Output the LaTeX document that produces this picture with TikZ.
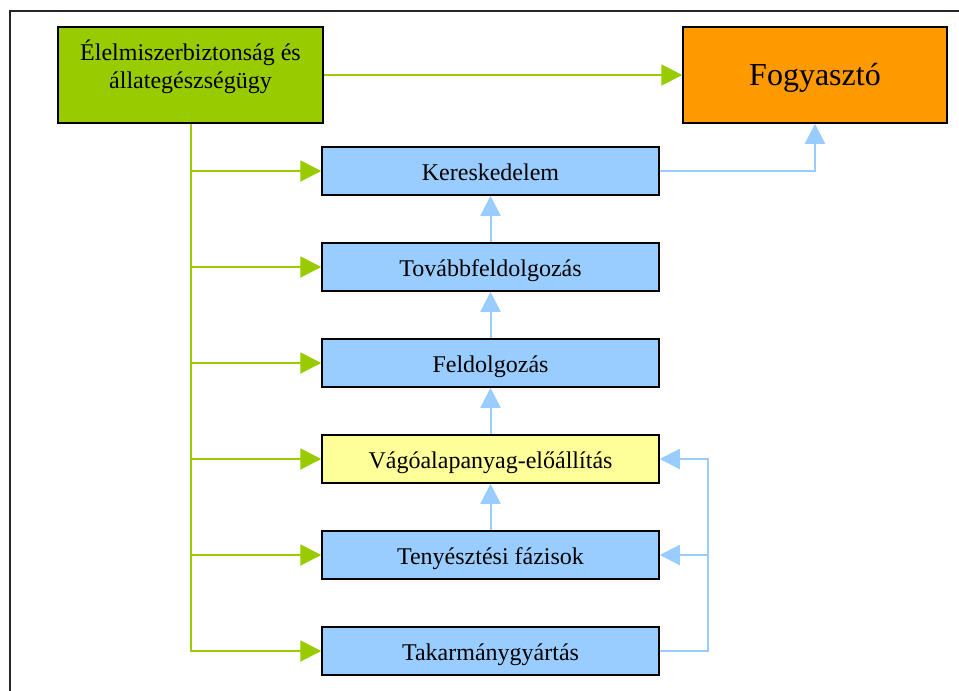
\documentclass[tikz,border=0pt]{standalone}
\usepackage{fontspec}
\setmainfont{Liberation Serif}
\usetikzlibrary{arrows.meta}

\definecolor{leafgreen}{HTML}{99CC00}
\definecolor{amber}{HTML}{FF9900}
\definecolor{skyblue}{HTML}{99CCFF}
\definecolor{paleyellow}{HTML}{FFFF99}

\tikzset{
  box/.style={draw=black, line width=1.5pt, rectangle, inner sep=0pt},
  stage/.style={box, fill=skyblue, minimum width=337pt, minimum height=48pt,
    font=\fontsize{24}{28}\selectfont, text height=24pt, text depth=5.3pt},
  ctrl/.style={draw=leafgreen, line width=2pt,
    -{Triangle[length=21pt,width=21pt]}},
  flow/.style={draw=skyblue, line width=2pt,
    -{Triangle[length=20pt,width=20pt]}},
}

\begin{document}
\begin{tikzpicture}[x=1pt,y=-1pt]
  \useasboundingbox (0,0) rectangle (959,691);
  % page frame (left and top edges)
  \draw[line width=1.5pt, black!85] (10,691) -- (10,11) -- (959,11);

  % top row
  \node[box, fill=leafgreen, minimum width=265pt, minimum height=96pt,
    label={[yshift=8.5pt, align=center, inner sep=0pt,
      font=\fontsize{24}{28}\selectfont]center:\rule{0pt}{22pt}Élelmiszerbiztonság és\\állategészségügy\rule[-7pt]{0pt}{7pt}}]
    (safety) at (190.5,75) {};
  \node[box, fill=amber, minimum width=264pt, minimum height=96pt,
    font=\fontsize{32}{38}\selectfont, text height=28.8pt, text depth=6.9pt]
    (consumer) at (815,75) {Fogyasztó};

  % chain of stages
  \node[stage] (trade)   at (490.5,171) {Kereskedelem};
  \node[stage] (further) at (490.5,267) {Továbbfeldolgozás};
  \node[stage] (process) at (490.5,363) {Feldolgozás};
  \node[stage, fill=paleyellow] (raw) at (490.5,459) {Vágóalapanyag-előállítás};
  \node[stage] (breed)   at (490.5,555) {Tenyésztési fázisok};
  \node[stage] (feed)    at (490.5,651) {Takarmánygyártás};

  % control connections
  \draw[ctrl] (safety.east) -- (consumer.west);
  \draw[ctrl] (safety.south) |- (feed.west);
  \foreach \s in {trade,further,process,raw,breed}
    \draw[ctrl] (safety.south |- \s.west) -- (\s.west);

  % product flow
  \draw[flow] (further.north) -- (trade.south);
  \draw[flow] (process.north) -- (further.south);
  \draw[flow] (raw.north) -- (process.south);
  \draw[flow] (breed.north) -- (raw.south);
  \draw[flow] (trade.east) -| (consumer.south);

  % feed return loop
  \coordinate (bus) at ([xshift=48pt]feed.east);
  \draw[flow] (feed.east) -- (bus) |- (raw.east);
  \draw[flow] (bus |- breed.east) -- (breed.east);
\end{tikzpicture}
\end{document}
